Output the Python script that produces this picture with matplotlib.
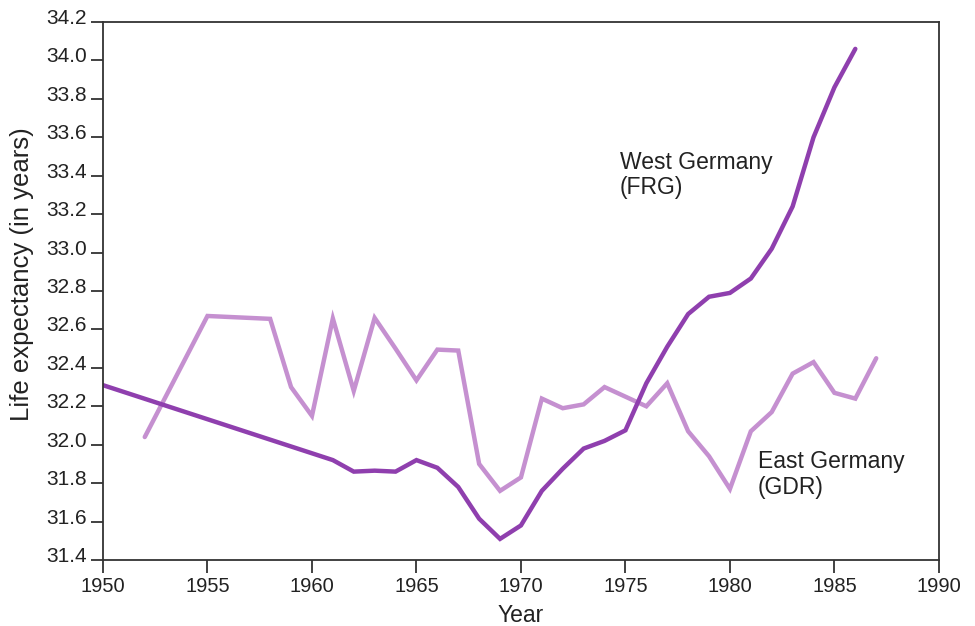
import matplotlib
matplotlib.use("Agg")
import matplotlib.pyplot as plt
from matplotlib.transforms import ScaledTranslation

plt.rcParams['font.family'] = ['Liberation Sans', 'DejaVu Sans']

# West Germany (FRG)
west_years = [1950, 1961, 1962, 1963, 1964, 1965, 1966, 1967, 1968, 1969,
              1970, 1971, 1972, 1973, 1974, 1975, 1976, 1977, 1978, 1979,
              1980, 1981, 1982, 1983, 1984, 1985, 1986]
west_values = [32.31, 31.92, 31.86, 31.865, 31.86, 31.92, 31.88, 31.78, 31.615, 31.51,
               31.58, 31.76, 31.875, 31.98, 32.02, 32.075, 32.32, 32.51, 32.68, 32.77,
               32.79, 32.865, 33.02, 33.24, 33.60, 33.86, 34.06]

# East Germany (GDR)
east_years = [1952, 1955, 1958, 1959, 1960, 1961, 1962, 1963, 1964, 1965,
              1966, 1967, 1968, 1969, 1970, 1971, 1972, 1973, 1974, 1975,
              1976, 1977, 1978, 1979, 1980, 1981, 1982, 1983, 1984, 1985,
              1986, 1987]
east_values = [32.04, 32.67, 32.655, 32.30, 32.15, 32.657, 32.28, 32.66, 32.50, 32.335,
               32.495, 32.49, 31.90, 31.76, 31.83, 32.24, 32.19, 32.21, 32.30, 32.25,
               32.20, 32.32, 32.07, 31.94, 31.77, 32.07, 32.17, 32.37, 32.43, 32.27,
               32.24, 32.45]

x_ticks = [1950, 1955, 1960, 1965, 1970, 1975, 1980, 1985, 1990]
y_ticks = [31.4, 31.6, 31.8, 32.0, 32.2, 32.4, 32.6, 32.8, 33.0, 33.2, 33.4, 33.6, 33.8, 34.0, 34.2]

fig = plt.figure(figsize=(9.75, 6.26), dpi=100)
ax = fig.add_axes([0.1056, 0.1054, 0.8574, 0.8595])

ax.plot(east_years, east_values, color='#c590d0', lw=3.2, solid_capstyle='round', solid_joinstyle='miter')
ax.plot(west_years, west_values, color='#8f3fae', lw=3.2, solid_capstyle='round', solid_joinstyle='miter')

ax.set_xlim(1950, 1990)
ax.set_ylim(31.4, 34.2)
ax.set_xticks(x_ticks)
ax.set_xticklabels([str(v) for v in x_ticks])
ax.set_yticks(y_ticks)
ax.set_yticklabels([f"{v:.1f}" for v in y_ticks])

txtc = '#222222'
for s in ax.spines.values():
    s.set_color('#333333')
    s.set_linewidth(1.3)
ax.tick_params(axis='x', direction='out', length=9, width=1.3, color='#333333',
               labelsize=14.5, labelcolor=txtc, pad=3)
ax.tick_params(axis='y', direction='out', length=9, width=1.3, color='#333333',
               labelsize=15, labelcolor=txtc, pad=2.5)
for lab in ax.get_yticklabels():
    lab.set_transform(lab.get_transform() + ScaledTranslation(0, 4/72, fig.dpi_scale_trans))

ax.set_xlabel('Year', fontsize=16.5, color=txtc, labelpad=6)
ax.set_ylabel('Life expectancy (in years)', fontsize=18.5, color=txtc)
ax.yaxis.set_label_coords(-0.082, 0.532)

ax.text(1974.74, 33.53, 'West Germany\n(FRG)', fontsize=16.5, color=txtc,
        ha='left', va='top', linespacing=1.15)
ax.text(1981.34, 31.97, 'East Germany\n(GDR)', fontsize=16.5, color=txtc,
        ha='left', va='top', linespacing=1.15)

fig.savefig('out.png', dpi=100, facecolor='white')
